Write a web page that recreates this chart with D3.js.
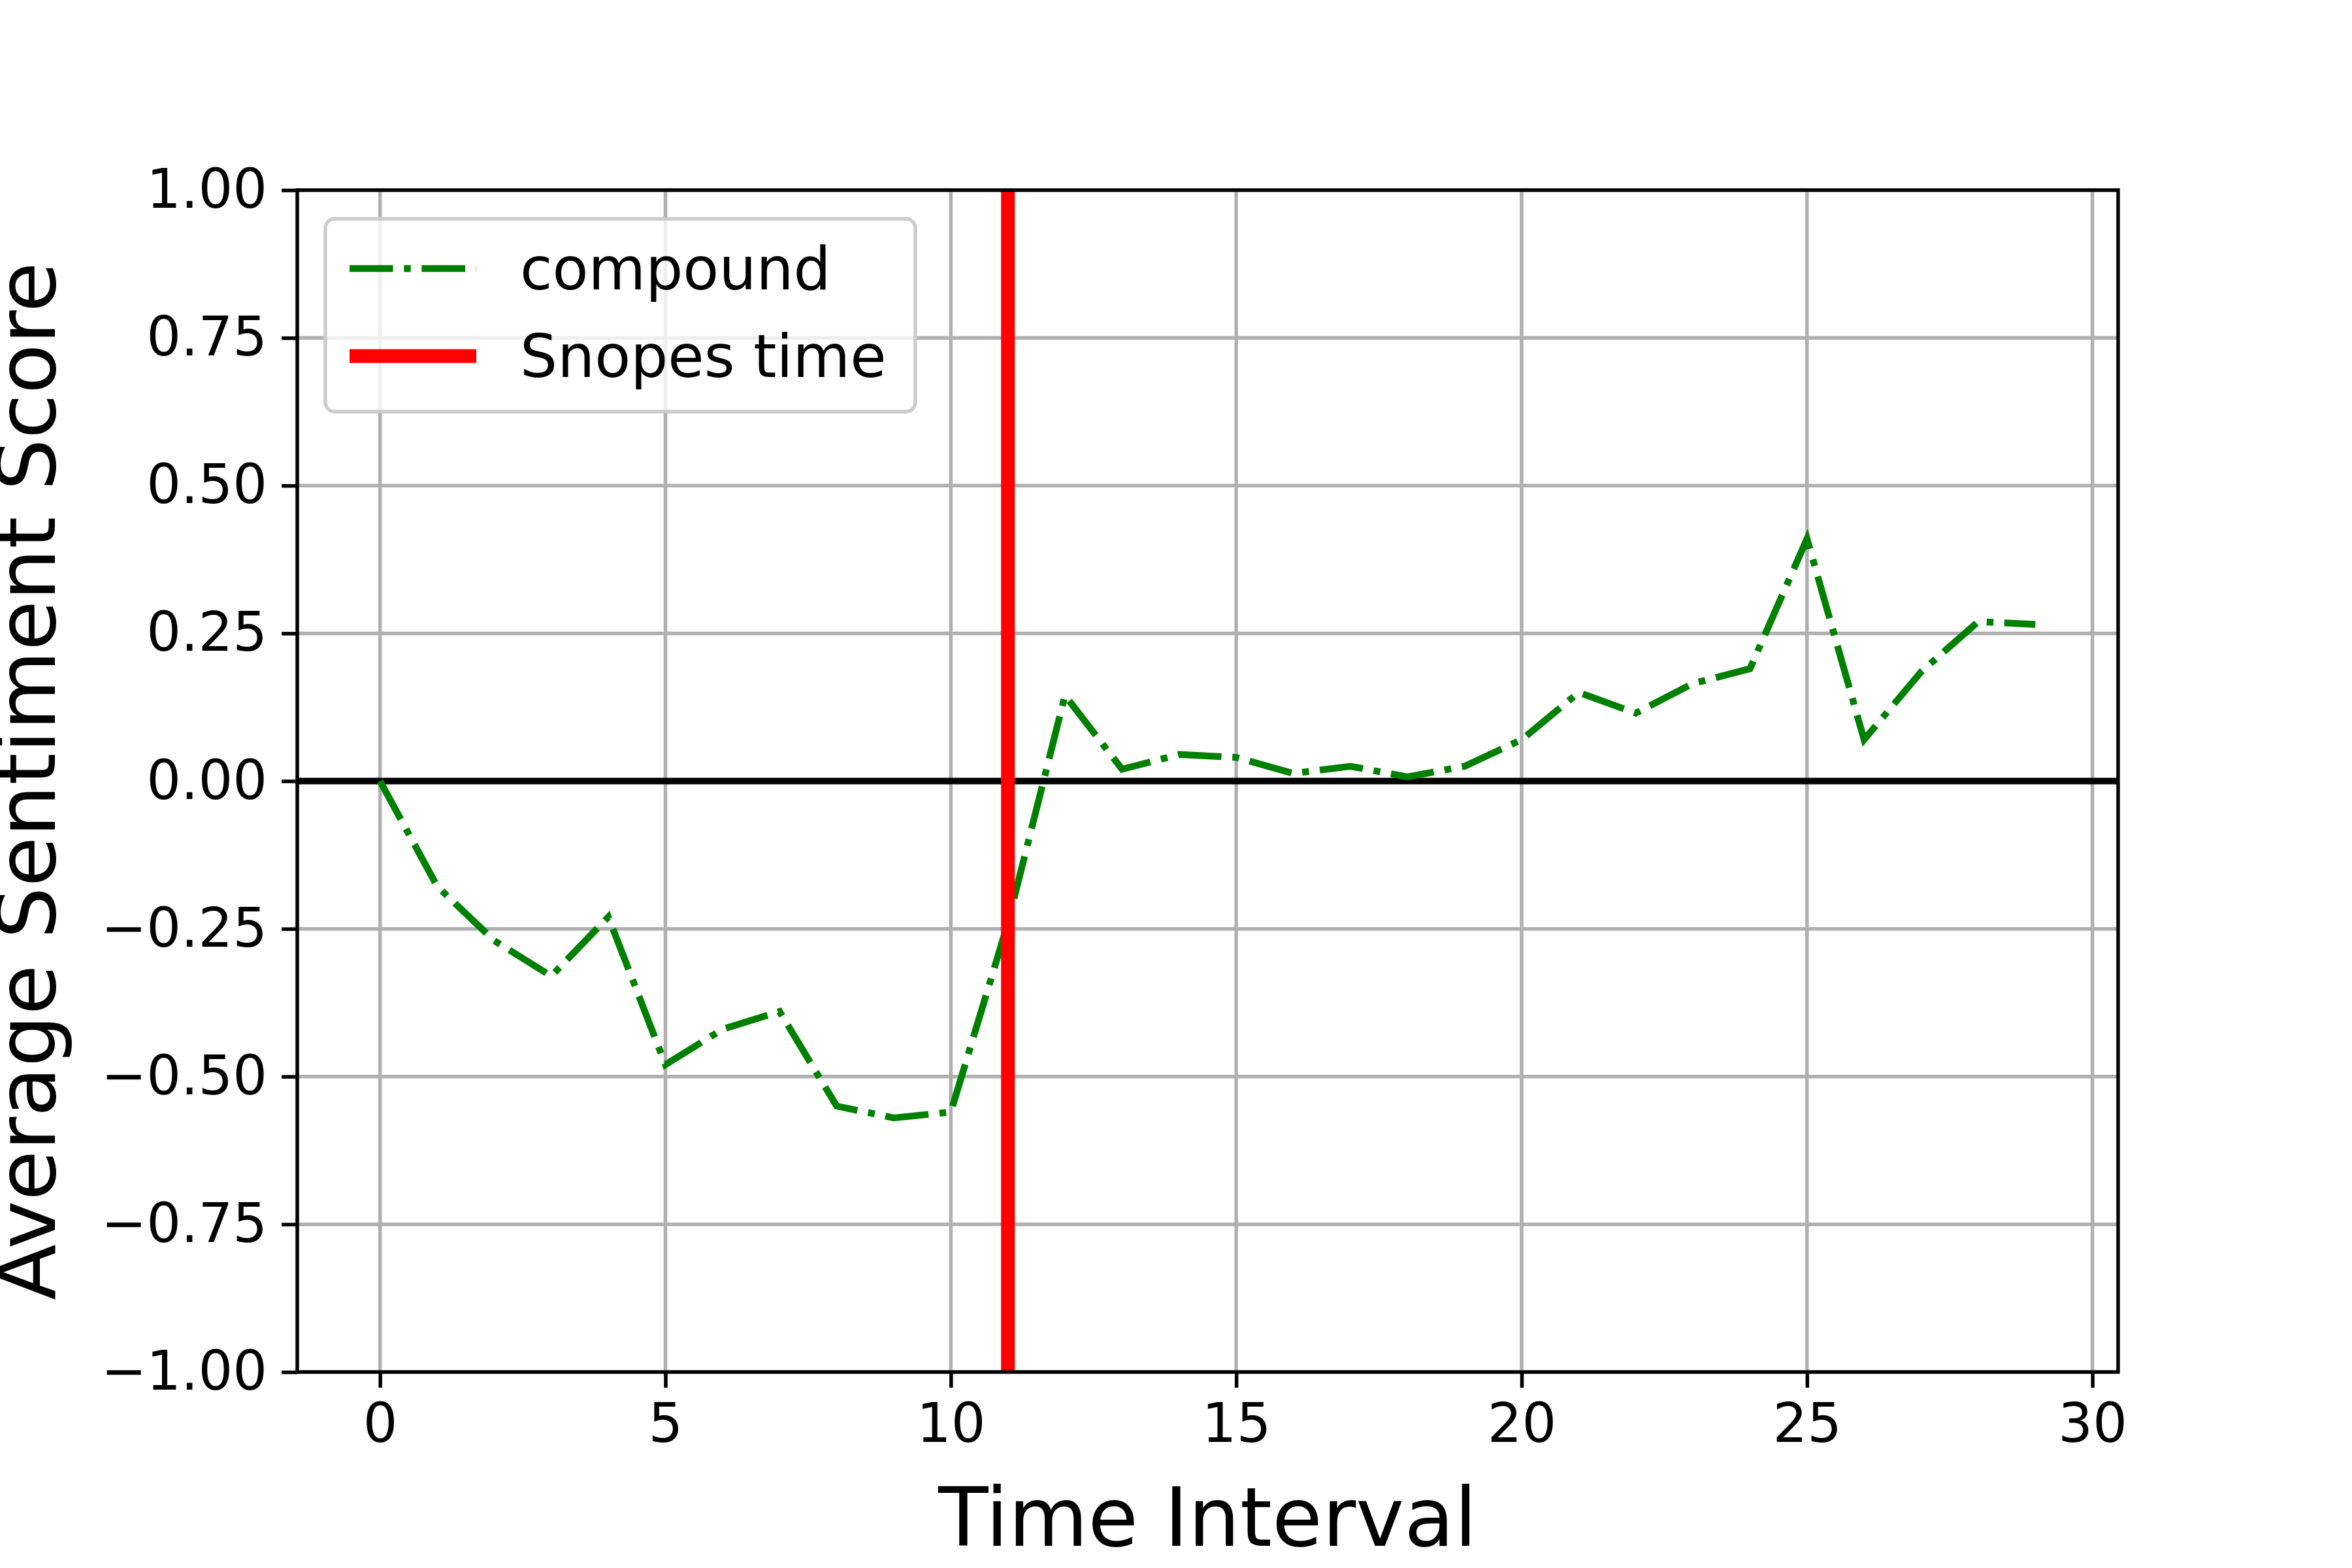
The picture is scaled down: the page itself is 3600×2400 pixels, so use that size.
<!DOCTYPE html>
<html>
<head>
<meta charset="utf-8">
<script src="https://cdn.jsdelivr.net/npm/d3@7"></script>
<style>
  body { margin: 0; background: #fff; }
  text { font-family: "DejaVu Sans", sans-serif; }
</style>
</head>
<body>
<div id="chart"></div>
<script>
// data
let intervals = d3.range(0, 30);
let compound = [0, -0.178, -0.27, -0.33, -0.23, -0.48, -0.42, -0.39, -0.55, -0.57,
  -0.56, -0.24, 0.145, 0.02, 0.045, 0.04, 0.013, 0.025, 0.007, 0.025,
  0.07, 0.15, 0.115, 0.165, 0.19, 0.41, 0.07, 0.185, 0.27, 0.265];
let snopesTime = 11;
let xTicks = [0, 5, 10, 15, 20, 25, 30];
let yTicks = [-1, -0.75, -0.5, -0.25, 0, 0.25, 0.5, 0.75, 1];
let legendLabels = ["compound", "Snopes time"];

let svgWidth = 3600;
let svgHeight = 2400;
let margin = { top: 291, right: 358, bottom: 300, left: 455 };
let chartWidth = svgWidth - margin.left - margin.right;
let chartHeight = svgHeight - margin.top - margin.bottom;

let svg = d3.select("#chart").append("svg")
  .attr("width", svgWidth).attr("height", svgHeight);
let chartGroup = svg.append("g")
  .attr("transform", `translate(${margin.left}, ${margin.top})`);

let xScale = d3.scaleLinear().domain([-1.45, 30.45]).range([0, chartWidth]);
let yScale = d3.scaleLinear().domain([-1, 1]).range([chartHeight, 0]);

// grid
chartGroup.append("g").selectAll("line").data(xTicks).enter().append("line")
  .attr("x1", d => xScale(d)).attr("x2", d => xScale(d))
  .attr("y1", 0).attr("y2", chartHeight)
  .attr("stroke", "#b0b0b0").attr("stroke-width", 5.5);
chartGroup.append("g").selectAll("line").data(yTicks).enter().append("line")
  .attr("y1", d => yScale(d)).attr("y2", d => yScale(d))
  .attr("x1", 0).attr("x2", chartWidth)
  .attr("stroke", "#b0b0b0").attr("stroke-width", 5.5);

// axes
let fmtMinus = d => d3.format(".2f")(d).replace("-", "\u2212");
let xAxis = d3.axisBottom(xScale).tickValues(xTicks).tickSize(24).tickPadding(24);
let yAxis = d3.axisLeft(yScale).tickValues(yTicks).tickFormat(fmtMinus).tickSize(24).tickPadding(22);
let gx = chartGroup.append("g").attr("transform", `translate(0, ${chartHeight})`).call(xAxis);
let gy = chartGroup.append("g").call(yAxis);
[gx, gy].forEach(g => {
  g.select(".domain").remove();
  g.selectAll(".tick line").attr("stroke", "#000").attr("stroke-width", 5.5);
  g.selectAll(".tick text").attr("font-size", 83).attr("fill", "#000")
    .style("font-family", "DejaVu Sans");
});

// zero line
chartGroup.append("line")
  .attr("x1", 0).attr("x2", chartWidth)
  .attr("y1", yScale(0)).attr("y2", yScale(0))
  .attr("stroke", "#000").attr("stroke-width", 10);

// compound line
let line = d3.line().x((d, i) => xScale(intervals[i])).y(d => yScale(d));
chartGroup.append("path").datum(compound)
  .attr("d", line).attr("fill", "none")
  .attr("stroke", "#008000").attr("stroke-width", 10.4)
  .attr("stroke-dasharray", "66.6,16.7,10.4,16.7");

// snopes line
chartGroup.append("line")
  .attr("x1", xScale(snopesTime)).attr("x2", xScale(snopesTime))
  .attr("y1", 0).attr("y2", chartHeight)
  .attr("stroke", "#ff0000").attr("stroke-width", 21);

// frame
chartGroup.append("rect").attr("width", chartWidth).attr("height", chartHeight)
  .attr("fill", "none").attr("stroke", "#000").attr("stroke-width", 5.5);

// legend
let legend = chartGroup.append("g").attr("transform", "translate(43, 44)");
legend.append("rect").attr("width", 903).attr("height", 295)
  .attr("rx", 14).attr("fill", "#fff").attr("fill-opacity", 0.8)
  .attr("stroke", "#cccccc").attr("stroke-width", 5.5);
legend.append("line").attr("x1", 37).attr("x2", 231).attr("y1", 76).attr("y2", 76)
  .attr("stroke", "#008000").attr("stroke-width", 10.4)
  .attr("stroke-dasharray", "66.6,16.7,10.4,16.7");
legend.append("line").attr("x1", 37).attr("x2", 231).attr("y1", 210).attr("y2", 210)
  .attr("stroke", "#ff0000").attr("stroke-width", 21);
legend.selectAll("text.lg").data(legendLabels).enter().append("text")
  .attr("x", 298).attr("y", (d, i) => 76 + i * 134).attr("dy", "0.35em")
  .attr("font-size", 90).text(d => d);

// axis labels
svg.append("text").attr("x", margin.left + chartWidth / 2).attr("y", 2366)
  .attr("text-anchor", "middle").attr("font-size", 125).text("Time Interval");
svg.append("text")
  .attr("transform", `translate(84, ${margin.top + chartHeight / 2}) rotate(-90)`)
  .attr("text-anchor", "middle").attr("font-size", 125).text("Average Sentiment Score");
</script>
</body>
</html>
